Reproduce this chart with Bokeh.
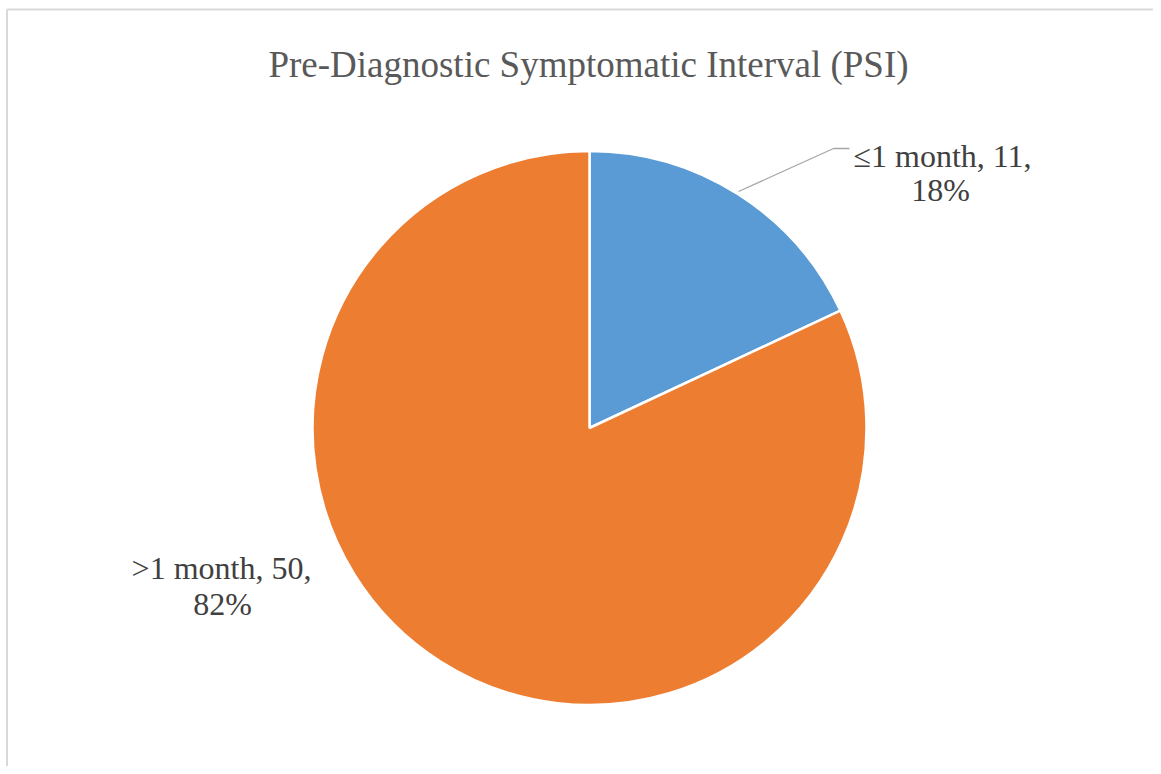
import math
from bokeh.plotting import figure
from bokeh.models import Range1d, ColumnDataSource
from bokeh.core.properties import value
from bokeh.embed import file_html
from bokeh.resources import INLINE

# ---- data ----
categories = ["\u22641 month", ">1 month"]
counts = [11, 50]
colors = ["#5B9BD5", "#ED7D31"]
title_text = "Pre-Diagnostic Symptomatic Interval (PSI)"

W, H = 1153, 766
OFF = 0  # observed page offset


def X(px):
    return px - OFF


def Y(py):
    return (H + OFF) - py


total = sum(counts)
starts, ends, pcts = [], [], []
cum = 0
for c in counts:
    starts.append(math.pi / 2 - 2 * math.pi * cum / total)
    cum += c
    ends.append(math.pi / 2 - 2 * math.pi * cum / total)
    pcts.append(round(100 * c / total))

src = ColumnDataSource(dict(start=starts, end=ends, color=colors, cat=categories))

p = figure(width=W, height=H, output_backend="svg", toolbar_location=None,
           x_range=Range1d(0, W), y_range=Range1d(0, H), min_border=0)
p.axis.visible = False
p.grid.visible = False
p.outline_line_color = None
p.background_fill_color = "white"

# chart border (left and top visible)
p.line([X(6.5), X(6.5)], [Y(9), Y(H + 10)], line_color="#d9d9d9", line_width=2)
p.line([X(6.5), X(W + 10)], [Y(9), Y(9)], line_color="#d9d9d9", line_width=2)

cx, cy, r = X(589), Y(427.5), 277
p.wedge(x=cx, y=cy, radius=r, start_angle="start", end_angle="end",
        direction="clock", fill_color="color", line_color="white",
        line_width=2.5, source=src)

# title
p.text(x=[X(588)], y=[Y(64)], text=[title_text],
       text_font=value("Liberation Serif"), text_font_size="37px",
       text_color="#595959", text_align="center", text_baseline="alphabetic")

# leader line for first slice
p.line([X(738), X(833), X(849)], [Y(191), Y(148), Y(148)],
       line_color="#a6a6a6", line_width=1.3)

label_pos = [((942, 155), (940, 189)), ((221, 567), (222, 603))]
for i, cat in enumerate(categories):
    (x1, y1), (x2, y2) = label_pos[i]
    p.text(x=[X(x1)], y=[Y(y1)], text=[f"{cat}, {counts[i]},"],
           text_font=value("Liberation Serif"), text_font_size="32px",
           text_color="#404040", text_align="center", text_baseline="alphabetic")
    p.text(x=[X(x2)], y=[Y(y2)], text=[f"{pcts[i]}%"],
           text_font=value("Liberation Serif"), text_font_size="32px",
           text_color="#404040", text_align="center", text_baseline="alphabetic")

open("out.html", "w").write(file_html(p, INLINE))
